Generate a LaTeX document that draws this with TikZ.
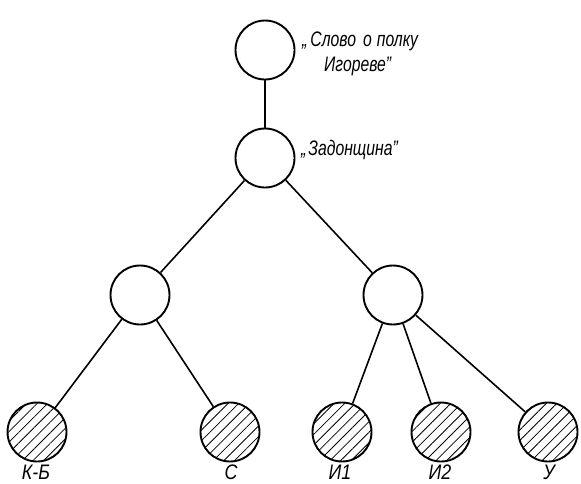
\documentclass[tikz,border=0pt]{standalone}
\usepackage{fontspec}
\setmainfont{Liberation Sans}[FakeStretch=0.75]
\newfontfamily\leaffont{Liberation Sans}[FakeStretch=0.85]
\usetikzlibrary{patterns.meta}
\tikzset{
  vert/.style={circle, draw, line width=1.9pt, minimum size=59pt, inner sep=0pt},
  leaf/.style={vert, pattern={Lines[angle=45, distance=7.5pt, line width=0.8pt]}},
  edge/.style={line width=1.6pt},
  lbl/.style={font=\fontsize{21}{25}\selectfont\itshape, align=left, anchor=west, inner sep=0pt},
  leaflbl/.style={font=\leaffont\fontsize{21}{23}\selectfont\itshape, inner sep=0pt}
}
\begin{document}
\begin{tikzpicture}[x=1pt, y=-1pt]
\useasboundingbox (0,0) rectangle (581,483);
% tree vertices
\node[vert] (slovo) at (265,50) {};
\node[vert] (zad) at (265,158) {};
\node[vert] (l) at (140,295) {};
\node[vert] (r) at (393,295) {};
\node[leaf] (kb) at (37,432) {};
\node[leaf] (s) at (230,432) {};
\node[leaf] (i1) at (342,432) {};
\node[leaf] (i2) at (441,432) {};
\node[leaf] (u) at (548,432) {};
% connections
\draw[edge] (slovo) -- (zad);
\draw[edge] (zad) -- (l);
\draw[edge] (zad) -- (r);
\draw[edge] (l) -- (kb);
\draw[edge] (l) -- (s);
\draw[edge] (r) -- (i1);
\draw[edge] (r) -- (i2);
\draw[edge] (r) -- (u);
% labels
\node[lbl] (tslovo) at (302,54) {„\hspace{3pt}Слово\hspace{7pt}о\hspace{5pt}полку\\\hspace*{22pt}Игореве”};
\node[lbl] (tzad) at (301,150) {„\hspace{2pt}Задонщина”};
\node[leaflbl, anchor=base] (tkb) at (36,479) {К-Б};
\node[leaflbl, anchor=base] (ts) at (231,479) {С};
\node[leaflbl, anchor=base] (ti1) at (340,479) {И1};
\node[leaflbl, anchor=base] (ti2) at (440,479) {И2};
\node[leaflbl, anchor=base] (tu) at (549,479) {У};
\end{tikzpicture}
\end{document}
